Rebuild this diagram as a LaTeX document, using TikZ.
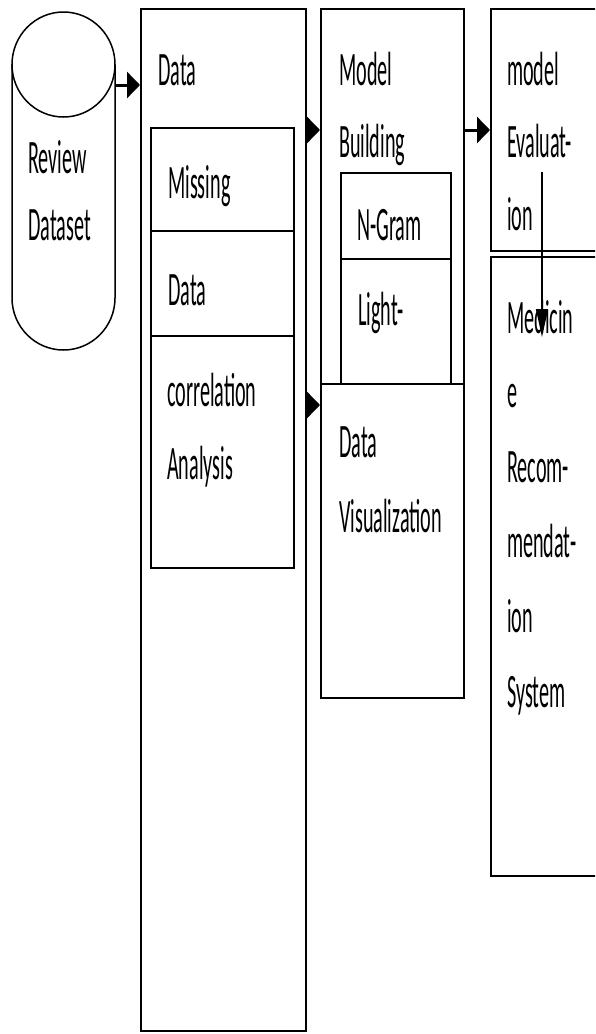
\documentclass[tikz,border=0pt]{standalone}
\usepackage{fontspec}
\setmainfont{Carlito}
\usepackage{graphicx}
\usetikzlibrary{arrows.meta,positioning}
\newcommand{\nw}[1]{\scalebox{0.42}[1]{#1}}
\tikzset{
  box/.style={
    draw,
    line width=1.5pt,
    fill=white,
    inner sep=0pt,
    anchor=north west
  },
  lbl/.style={
    anchor=base west,
    inner sep=0pt,
    align=left,
    font=\fontsize{48}{74}\selectfont
  },
  flow/.style={
    -{Triangle[length=13pt,width=26pt]},
    line width=3pt
  },
  down flow/.style={
    -{Triangle[length=28pt,width=12pt]},
    line width=1.3pt
  }
}

\begin{document}
\begin{tikzpicture}[x=1pt,y=-1pt]
    \useasboundingbox (0,0) rectangle (595,1034);
    \clip (0,0) rectangle (595,1034);
    % review dataset (cylinder)
    \node[inner sep=0pt, minimum width=103pt, minimum height=338pt, anchor=north west] (review) at (12,12) {};
    \draw[line width=1.5pt] (63.5,64.5) ellipse [x radius=51.5, y radius=52.5];
    \draw[line width=1.5pt] (12,64.5) -- (12,298) arc [start angle=180, end angle=0, x radius=51.5, y radius=52] -- (115,64.5);
    % boxes
    \node[box, minimum width=165pt, minimum height=1022pt] (data) at (140,8) {};
    \node[box, minimum width=143pt, minimum height=103pt] (missing) at (150,127) {};
    \node[box, minimum width=143pt, minimum height=105pt] (clean) at (150,230) {};
    \node[box, minimum width=143pt, minimum height=232pt] (corr) at (150,335) {};
    \node[box, minimum width=143pt, minimum height=375pt] (model) at (320,8) {};
    \node[box, minimum width=110pt, minimum height=86pt] (ngram) at (340,172) {};
    \node[box, minimum width=110pt, minimum height=125pt] (light) at (340,258) {};
    \node[box, minimum width=143pt, minimum height=314pt] (viz) at (320,383) {};
    \node[box, minimum width=130pt, minimum height=242pt] (eval) at (490,8) {};
    \node[box, minimum width=130pt, minimum height=619pt] (medrec) at (490,256) {};
    % labels (base = last line)
    \node[lbl, font=\fontsize{48}{67}\selectfont] (treview) at (28,240) {\nw{Review}\\\nw{Dataset}};
    \node[lbl] (tdata) at (158,85) {\nw{Data}};
    \node[lbl] (tmissing) at (168,198) {\nw{Missing}};
    \node[lbl] (tclean) at (168,305) {\nw{Data}};
    \node[lbl, font=\fontsize{48}{73}\selectfont] (tcorr) at (167,479) {\nw{correlation}\\\nw{Analysis}};
    \node[lbl, font=\fontsize{48}{72}\selectfont] (tmodel) at (339,157) {\nw{Model}\\\nw{Building}};
    \node[lbl] (tngram) at (357,240) {\nw{N-Gram}};
    \node[lbl] (tlight) at (358,325) {\nw{Light-}};
    \node[lbl, font=\fontsize{48}{75}\selectfont] (tviz) at (339,532) {\nw{Data}\\\nw{Visualization}};
    \node[lbl, font=\fontsize{48}{72.5}\selectfont] (teval) at (507,230) {\nw{model}\\\nw{Evaluat-}\\\nw{ion}};
    \node[lbl, font=\fontsize{48}{74.8}\selectfont] (tmed) at (507,707) {\nw{Medicin}\\\nw{e}\\\nw{Recom-}\\\nw{mendat-}\\\nw{ion}\\\nw{System}};
    % connectors
    \coordinate (r1) at (0,85);
    \coordinate (r2) at (0,130);
    \coordinate (r4) at (0,405);
    \coordinate (v1) at (542,172);
    \draw[flow] (review.east |- r1) -- (data.west |- r1);
    \draw[flow] (data.east |- r2) -- (model.west |- r2);
    \draw[flow] (model.east |- r2) -- (eval.west |- r2);
    \draw[flow] (data.east |- r4) -- (viz.west |- r4);
    \draw[down flow] (v1) -- ++(0,165);
\end{tikzpicture}
\end{document}
